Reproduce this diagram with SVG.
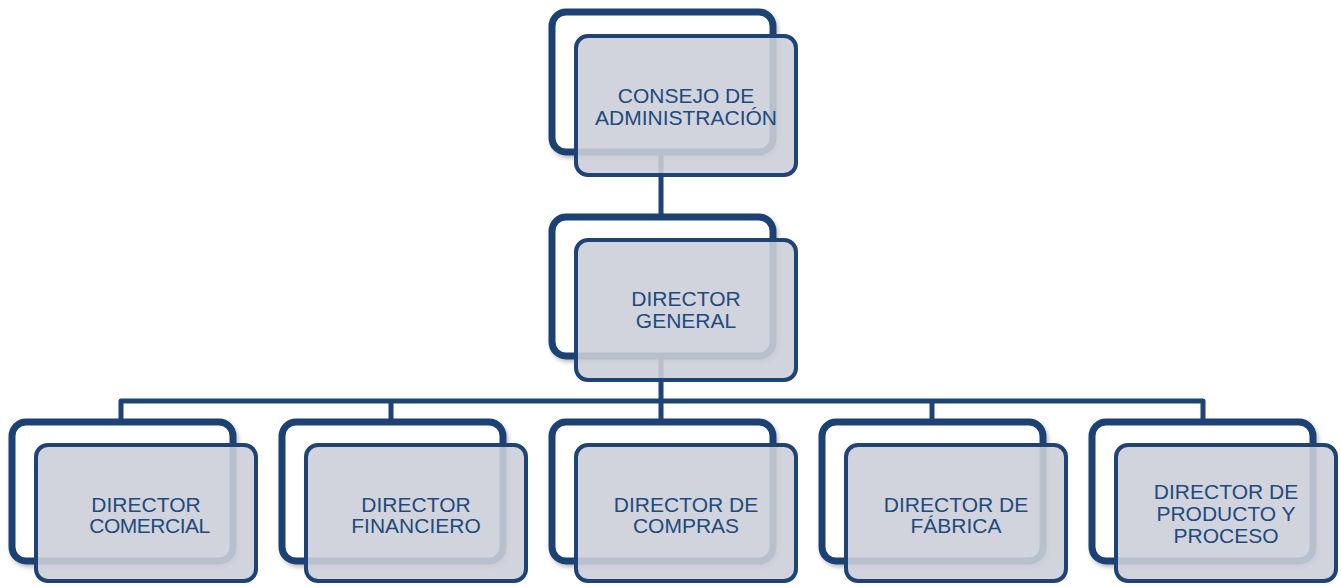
<svg xmlns="http://www.w3.org/2000/svg" width="1341" height="587" viewBox="0 0 1341 587">
<defs>
<filter id="sh" x="-10%" y="-10%" width="125%" height="125%">
<feDropShadow dx="2" dy="3" stdDeviation="2" flood-color="#000" flood-opacity="0.25"/>
</filter>
</defs>
<style>
.back{fill:#ffffff;stroke:#1f4374;stroke-width:7;filter:url(#sh)}
.front{fill:#cbcfd8;fill-opacity:0.89;stroke:#1f4374;stroke-width:4}
.conn{fill:none;stroke:#1f4374;stroke-width:5;stroke-linejoin:round}
.t{font-family:"Liberation Sans",Arial,sans-serif;font-size:21px;fill:#224a7d;text-anchor:middle}
</style>
<rect width="1341" height="587" fill="#ffffff"/>
<g id="connectors">
<path class="conn" d="M661 152 V217"/>
<path class="conn" d="M661 356 V401"/>
<path class="conn" d="M121 422 V401 H1203 V422"/>
<path class="conn" d="M391 401 V422"/>
<path class="conn" d="M661 401 V422"/>
<path class="conn" d="M932 401 V422"/>
</g>
<g id="consejo">
<rect class="back" x="552" y="12" width="221" height="140" rx="14"/>
<rect class="front" x="576" y="36" width="220" height="139" rx="12"/>
<text class="t"><tspan x="686" y="102.5">CONSEJO DE</tspan><tspan x="686" y="124.5">ADMINISTRACIÓN</tspan></text>
</g>
<g id="director-general">
<rect class="back" x="552" y="217" width="221" height="139" rx="14"/>
<rect class="front" x="576" y="240" width="220" height="140" rx="12"/>
<text class="t"><tspan x="686" y="305.5">DIRECTOR</tspan><tspan x="686" y="327.5">GENERAL</tspan></text>
</g>
<g id="director-comercial">
<rect class="back" x="12" y="422" width="221" height="139" rx="14"/>
<rect class="front" x="36" y="445" width="220" height="136" rx="12"/>
<text class="t"><tspan x="146" y="512">DIRECTOR</tspan><tspan x="149.5" y="533" letter-spacing="-0.5">COMERCIAL</tspan></text>
</g>
<g id="director-financiero">
<rect class="back" x="282" y="422" width="221" height="139" rx="14"/>
<rect class="front" x="306" y="445" width="220" height="136" rx="12"/>
<text class="t"><tspan x="416" y="512">DIRECTOR</tspan><tspan x="416" y="533">FINANCIERO</tspan></text>
</g>
<g id="director-compras">
<rect class="back" x="552" y="422" width="221" height="139" rx="14"/>
<rect class="front" x="576" y="445" width="220" height="136" rx="12"/>
<text class="t"><tspan x="686" y="512">DIRECTOR DE</tspan><tspan x="686" y="533">COMPRAS</tspan></text>
</g>
<g id="director-fabrica">
<rect class="back" x="822" y="422" width="221" height="139" rx="14"/>
<rect class="front" x="846" y="445" width="220" height="136" rx="12"/>
<text class="t"><tspan x="956" y="512">DIRECTOR DE</tspan><tspan x="956" y="533">FÁBRICA</tspan></text>
</g>
<g id="director-producto">
<rect class="back" x="1092" y="422" width="221" height="139" rx="14"/>
<rect class="front" x="1116" y="445" width="220" height="136" rx="12"/>
<text class="t"><tspan x="1226" y="498.5">DIRECTOR DE</tspan><tspan x="1226" y="520.5">PRODUCTO Y</tspan><tspan x="1226" y="542.5">PROCESO</tspan></text>
</g>
</svg>
